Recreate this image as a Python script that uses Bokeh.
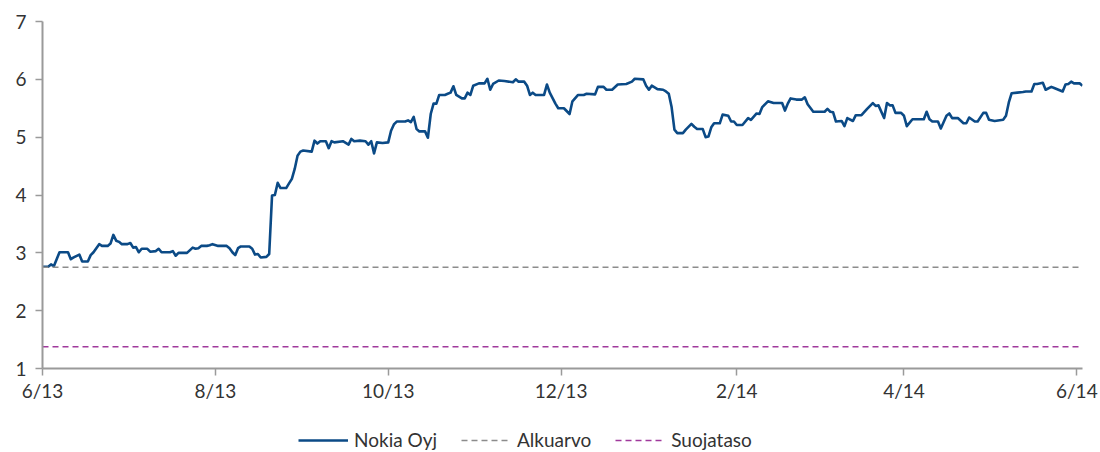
import pandas as pd
from bokeh.plotting import figure
from bokeh.layouts import column
from bokeh.models import FixedTicker, Legend, LegendItem, ColumnDataSource, Range1d
from bokeh.embed import file_html
from bokeh.resources import INLINE

# ---- data -------------------------------------------------------------
dates = [
    "2013-06-01", "2013-06-03", "2013-06-04", "2013-06-05", "2013-06-07", "2013-06-09", "2013-06-10",
    "2013-06-11", "2013-06-12", "2013-06-14", "2013-06-15", "2013-06-17", "2013-06-18", "2013-06-19",
    "2013-06-21", "2013-06-22", "2013-06-24", "2013-06-25", "2013-06-26", "2013-06-27", "2013-06-28",
    "2013-06-29", "2013-07-01", "2013-07-02", "2013-07-03", "2013-07-04", "2013-07-05", "2013-07-06",
    "2013-07-08", "2013-07-09", "2013-07-11", "2013-07-12", "2013-07-13", "2013-07-16", "2013-07-17",
    "2013-07-18", "2013-07-19", "2013-07-22", "2013-07-24", "2013-07-25", "2013-07-26", "2013-07-27",
    "2013-07-29", "2013-07-30", "2013-07-31", "2013-08-02", "2013-08-05", "2013-08-06", "2013-08-07",
    "2013-08-08", "2013-08-09", "2013-08-10", "2013-08-13", "2013-08-14", "2013-08-15", "2013-08-16",
    "2013-08-17", "2013-08-19", "2013-08-20", "2013-08-21", "2013-08-22", "2013-08-23", "2013-08-24",
    "2013-08-26", "2013-08-27", "2013-08-28", "2013-08-29", "2013-08-30", "2013-08-31",
    "2013-09-01", "2013-09-04", "2013-09-05", "2013-09-06", "2013-09-07", "2013-09-09", "2013-09-10",
    "2013-09-11", "2013-09-12", "2013-09-15", "2013-09-17", "2013-09-18", "2013-09-19", "2013-09-21",
    "2013-09-23", "2013-09-24", "2013-09-25", "2013-09-26", "2013-09-27", "2013-09-29", "2013-10-01",
    "2013-10-02", "2013-10-03", "2013-10-04", "2013-10-07", "2013-10-08", "2013-10-09", "2013-10-10",
    "2013-10-11", "2013-10-12", "2013-10-14", "2013-10-15", "2013-10-16", "2013-10-17", "2013-10-18",
    "2013-10-19", "2013-10-21", "2013-10-22", "2013-10-23", "2013-10-24", "2013-10-25", "2013-10-27",
    "2013-10-28", "2013-10-29", "2013-10-30", "2013-10-31", "2013-11-02", "2013-11-04", "2013-11-05",
    "2013-11-06", "2013-11-07", "2013-11-09", "2013-11-11", "2013-11-14", "2013-11-15", "2013-11-16",
    "2013-11-18", "2013-11-19", "2013-11-20", "2013-11-21", "2013-11-22", "2013-11-25", "2013-11-26",
    "2013-11-27", "2013-11-29", "2013-11-30",
    "2013-12-02", "2013-12-04", "2013-12-05", "2013-12-07", "2013-12-09", "2013-12-10", "2013-12-13",
    "2013-12-14", "2013-12-16", "2013-12-17", "2013-12-19", "2013-12-21", "2013-12-24", "2013-12-26",
    "2013-12-27", "2013-12-30", "2013-12-31", "2014-01-01", "2014-01-02", "2014-01-04", "2014-01-06",
    "2014-01-07", "2014-01-08", "2014-01-09", "2014-01-10", "2014-01-11", "2014-01-13", "2014-01-14",
    "2014-01-16", "2014-01-17", "2014-01-18", "2014-01-20", "2014-01-21", "2014-01-22", "2014-01-23",
    "2014-01-24", "2014-01-26", "2014-01-27", "2014-01-29", "2014-01-30", "2014-01-31", "2014-02-01",
    "2014-02-03", "2014-02-05", "2014-02-06", "2014-02-08", "2014-02-09", "2014-02-10", "2014-02-12",
    "2014-02-14", "2014-02-17", "2014-02-18", "2014-02-19", "2014-02-20", "2014-02-22", "2014-02-24",
    "2014-02-25", "2014-02-26", "2014-02-28", "2014-03-02",
    "2014-03-04", "2014-03-05", "2014-03-06", "2014-03-07", "2014-03-08", "2014-03-10", "2014-03-11",
    "2014-03-12", "2014-03-14", "2014-03-15", "2014-03-17", "2014-03-19", "2014-03-21", "2014-03-22",
    "2014-03-23", "2014-03-25", "2014-03-26", "2014-03-27", "2014-03-28", "2014-03-29", "2014-03-31",
    "2014-04-01", "2014-04-02", "2014-04-04", "2014-04-08", "2014-04-09", "2014-04-10", "2014-04-11",
    "2014-04-13", "2014-04-14", "2014-04-16", "2014-04-17", "2014-04-18", "2014-04-20", "2014-04-22",
    "2014-04-23", "2014-04-24", "2014-04-26", "2014-04-27", "2014-04-29", "2014-04-30", "2014-05-01",
    "2014-05-03", "2014-05-06", "2014-05-07", "2014-05-08", "2014-05-09", "2014-05-11", "2014-05-13",
    "2014-05-14", "2014-05-16", "2014-05-17", "2014-05-18", "2014-05-20", "2014-05-21", "2014-05-23",
    "2014-05-24", "2014-05-27", "2014-05-28", "2014-05-29", "2014-05-30", "2014-05-31", "2014-06-02",
    "2014-06-03",
]

nokia = [
    2.76, 2.76, 2.80, 2.77, 3.01, 3.01, 3.01,
    2.89, 2.92, 2.97, 2.85, 2.85, 2.96, 3.01,
    3.15, 3.12, 3.12, 3.16, 3.31, 3.21, 3.19,
    3.15, 3.15, 3.17, 3.09, 3.10, 3.01, 3.07,
    3.07, 3.02, 3.03, 3.07, 3.01, 3.01, 3.03,
    2.95, 3.00, 3.00, 3.09, 3.07, 3.08, 3.12,
    3.12, 3.13, 3.15, 3.12, 3.12, 3.08, 3.01,
    2.96, 3.08, 3.11, 3.11, 3.07, 2.97, 2.98,
    2.92, 2.93, 2.98, 3.99, 4.00, 4.21, 4.12,
    4.12, 4.20, 4.28, 4.45, 4.68, 4.75,
    4.77, 4.75, 4.94, 4.89, 4.93, 4.93, 4.81,
    4.93, 4.91, 4.93, 4.87, 4.97, 4.93, 4.94,
    4.93, 4.87, 4.93, 4.72, 4.91, 4.90, 4.91,
    5.11, 5.22, 5.27, 5.27, 5.29, 5.26, 5.35,
    5.14, 5.10, 5.10, 4.99, 5.40, 5.58, 5.58,
    5.73, 5.73, 5.75, 5.77, 5.88, 5.73, 5.67,
    5.67, 5.77, 5.73, 5.89, 5.93, 5.93, 6.01,
    5.82, 5.92, 5.98, 5.97, 5.95, 6.00, 5.96,
    5.96, 5.89, 5.73, 5.77, 5.73, 5.73, 5.91,
    5.77, 5.58, 5.50,
    5.50, 5.40, 5.62, 5.73, 5.73, 5.75, 5.74,
    5.87, 5.87, 5.82, 5.82, 5.91, 5.92, 5.96,
    6.01, 6.00, 5.89, 5.82, 5.89, 5.83, 5.82,
    5.79, 5.75, 5.52, 5.13, 5.07, 5.07, 5.13,
    5.23, 5.18, 5.14, 5.14, 5.00, 5.01, 5.17,
    5.24, 5.24, 5.39, 5.37, 5.27, 5.27, 5.21,
    5.21, 5.33, 5.30, 5.41, 5.40, 5.52, 5.62,
    5.59, 5.59, 5.46, 5.58, 5.67, 5.65, 5.65,
    5.69, 5.57, 5.44, 5.44,
    5.44, 5.49, 5.44, 5.43, 5.27, 5.28, 5.19,
    5.33, 5.28, 5.38, 5.38, 5.49, 5.59, 5.54,
    5.55, 5.33, 5.59, 5.55, 5.55, 5.42, 5.42,
    5.37, 5.19, 5.31, 5.31, 5.44, 5.31, 5.27,
    5.27, 5.15, 5.37, 5.41, 5.33, 5.33, 5.24,
    5.24, 5.34, 5.27, 5.27, 5.42, 5.42, 5.30,
    5.28, 5.30, 5.37, 5.60, 5.76, 5.77, 5.78,
    5.79, 5.79, 5.92, 5.92, 5.94, 5.82, 5.87,
    5.85, 5.79, 5.91, 5.92, 5.96, 5.93, 5.93,
    5.89,
]

level_dates = ["2013-06-01", "2014-06-03"]
alkuarvo = 2.75
suojataso = 1.375

series_names = ["Nokia Oyj", "Alkuarvo", "Suojataso"]
y_ticks = [1, 2, 3, 4, 5, 6, 7]
x_tick_dates = ["2013-06-01", "2013-08-01", "2013-10-01", "2013-12-01",
                "2014-02-01", "2014-04-01", "2014-06-01"]
x_tick_labels = ["6/13", "8/13", "10/13", "12/13", "2/14", "4/14", "6/14"]

# ---- styles -----------------------------------------------------------
FONT = "Lato"
FSIZE = "19px"
TEXT = "#333333"
AXIS = "#9a9a9a"
C_NOKIA, C_ALKU, C_SUOJA = "#0B4A86", "#8c8c8c", "#A0399C"

x_start = pd.Timestamp(level_dates[0])
x_end = pd.Timestamp(level_dates[1])

# ---- main chart -------------------------------------------------------
p = figure(width=1100, height=410, x_axis_type="datetime",
           output_backend="svg", toolbar_location=None,
           x_range=Range1d(x_start, x_end), y_range=Range1d(1, 7),
           min_border_left=42, min_border_right=18,
           min_border_top=21, min_border_bottom=42)

src = ColumnDataSource(dict(date=pd.to_datetime(dates), value=nokia))
lvl = pd.to_datetime(level_dates)
lvl_src = ColumnDataSource(dict(date=lvl, alku=[alkuarvo] * len(lvl),
                                suoja=[suojataso] * len(lvl)))

p.line("date", "value", source=src, line_color=C_NOKIA, line_width=2.6, line_join="round")
p.line("date", "alku", source=lvl_src, line_color=C_ALKU, line_width=1.6, line_dash="6 4")
p.line("date", "suoja", source=lvl_src, line_color=C_SUOJA, line_width=1.6, line_dash="6 4")

tick_ms = [int(pd.Timestamp(d).timestamp() * 1000) for d in x_tick_dates]
p.xaxis.ticker = FixedTicker(ticks=tick_ms)
p.xaxis.major_label_overrides = {t: l for t, l in zip(tick_ms, x_tick_labels)}
p.yaxis.ticker = FixedTicker(ticks=y_ticks)

for ax in (p.xaxis, p.yaxis):
    ax.axis_line_color = AXIS
    ax.axis_line_width = 2
    ax.major_tick_line_color = AXIS
    ax.major_tick_line_width = 1.5
    ax.major_tick_out = 7
    ax.major_tick_in = 0
    ax.minor_tick_out = 0
    ax.minor_tick_in = 0
    ax.major_label_text_font = FONT
    ax.major_label_text_font_size = FSIZE
    ax.major_label_text_color = TEXT
p.xaxis.major_label_standoff = 3
p.yaxis.major_label_standoff = 9

p.xgrid.visible = False
p.ygrid.visible = False
p.outline_line_color = None
p.border_fill_color = "white"

# ---- legend strip (keys only; its renderers are hidden) ---------------
lf = figure(width=1100, height=42, output_backend="svg", toolbar_location=None,
            x_axis_location=None, y_axis_location=None,
            x_range=Range1d(x_start, x_end), y_range=Range1d(1, 7),
            min_border=0)
lf.xgrid.visible = False
lf.ygrid.visible = False
lf.outline_line_color = None
k_nokia = lf.line("date", "value", source=src, line_color=C_NOKIA, line_width=2.6, visible=False)
k_alku = lf.line("date", "alku", source=lvl_src, line_color=C_ALKU, line_width=1.6,
                 line_dash="6 4", visible=False)
k_suoja = lf.line("date", "suoja", source=lvl_src, line_color=C_SUOJA, line_width=1.6,
                  line_dash="6 4", visible=False)

legend = Legend(items=[LegendItem(label=series_names[0], renderers=[k_nokia]),
                       LegendItem(label=series_names[1], renderers=[k_alku]),
                       LegendItem(label=series_names[2], renderers=[k_suoja])],
                location=(256, 1), orientation="horizontal")
legend.label_text_font = FONT
legend.label_text_font_size = FSIZE
legend.label_text_color = TEXT
legend.glyph_width = 50
legend.glyph_height = 20
legend.label_standoff = 6
legend.spacing = 24
legend.padding = 0
legend.margin = 0
legend.border_line_alpha = 0
legend.background_fill_alpha = 0
legend.inactive_fill_alpha = 0
lf.add_layout(legend)

layout = column(p, lf, spacing=0)
open("out.html", "w").write(file_html(layout, INLINE))
